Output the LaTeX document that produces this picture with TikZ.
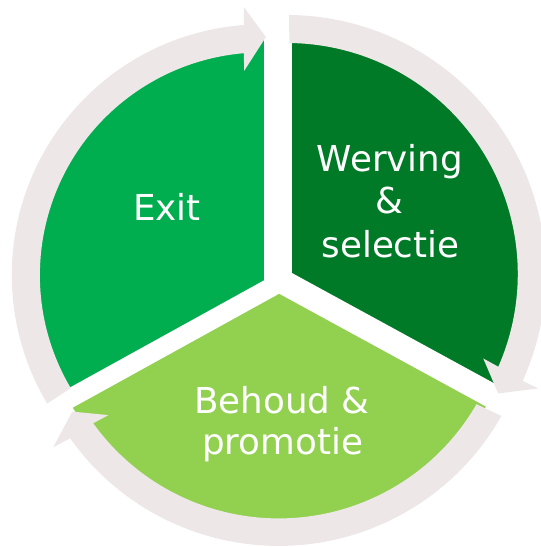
\documentclass[tikz,border=0pt]{standalone}
\usepackage{fontspec}
\setmainfont{DejaVu Sans}
\usetikzlibrary{positioning}
\definecolor{exitgreen}{RGB}{0,173,79}
\definecolor{wervgreen}{RGB}{0,122,39}
\definecolor{behgreen}{RGB}{146,208,80}
\definecolor{ringgray}{RGB}{237,231,231}

\begin{document}
\begin{tikzpicture}[x=1pt, y=1pt,
  gapline/.style={white, line width=#1},
  cycletext/.style={white, font=\fontsize{35.7}{43}\selectfont, anchor=base, inner sep=0pt}]
  \useasboundingbox (-279,-266) rectangle (262,281);
  % pie sectors
  \fill[exitgreen] (0,0) -- (90:242) arc[start angle=90, end angle=209, radius=242] -- cycle;
  \fill[wervgreen] (0,0) -- (-29:242) arc[start angle=-29, end angle=90, radius=242] -- cycle;
  \fill[behgreen] (0,0) -- (209:242) arc[start angle=209, end angle=331, radius=242] -- cycle;
  % white gaps between the sectors
  \fill[white] (-14.7,1) -- (13.3,7) -- (1,-12.3) -- cycle;
  \draw[gapline=28] (-0.7,-3) -- (-0.7,270);
  \draw[gapline=19] (8,2.5) -- (-280.2,-156.6);
  \draw[gapline=24.3] (-8,5.6) -- (281,-152.1);
  % ring arrows (each on its own centre)
  \begin{scope}[shift={(-16.4,5.9)}]
    \fill[ringgray] (210.5:222.7) arc[start angle=210.5, end angle=94.8, radius=222.7]
      -- (95.2:204.9) -- (89.2:238.1) -- (94.0:268.7) -- (94.25:250.8)
      arc[start angle=94.25, end angle=210.8, radius=250.8] -- cycle;
  \end{scope}
  \begin{scope}[shift={(7.9,7.1)}]
    \fill[ringgray] (89.4:230.9) arc[start angle=89.4, end angle=-23.7, radius=230.9]
      -- (-23.3:213.8) -- (-29.5:242.8) -- (-24.5:276.2) -- (-24.4:258.9)
      arc[start angle=-24.4, end angle=89.5, radius=258.9] -- cycle;
  \end{scope}
  \begin{scope}[shift={(-0.3,-9)}]
    \fill[ringgray] (-30:228.4) arc[start angle=-30, end angle=-144.3, radius=228.4]
      -- (-143.7:211.3) -- (-149.5:239.6) -- (-145.1:274.9) -- (-144.6:255.9)
      arc[start angle=-144.6, end angle=-29.5, radius=255.9] -- cycle;
  \end{scope}
  % labels
  \node[cycletext] (exit) at (-112,60.3) {Exit};
  \node[cycletext] (werving) at (111,109.6) {Werving};
  \node[cycletext] (amp) at (110.7,67.2) {\&};
  \node[cycletext] (selectie) at (111.5,24) {selectie};
  \node[cycletext] (behoud) at (3,-132.8) {Behoud \&};
  \node[cycletext] (promotie) at (3.7,-173.5) {promotie};
\end{tikzpicture}
\end{document}
